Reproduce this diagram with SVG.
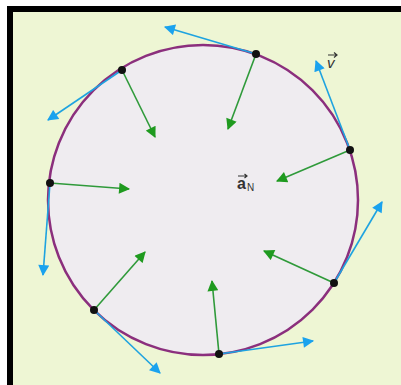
<svg xmlns="http://www.w3.org/2000/svg" width="401" height="385" viewBox="0 0 401 385">
<style>
.bg{fill:#eef6d4}
.frame{fill:none;stroke:#000;stroke-width:6}
.circ{fill:#efecf0;stroke:#8b2f7d;stroke-width:2.5}
.v{stroke:#1ea3e0;stroke-width:1.6;fill:none;marker-end:url(#mb)}
.a{stroke:#2f9a3a;stroke-width:1.6;fill:none;marker-end:url(#mg)}
.dot{fill:#111}
.lbl{font-family:"Liberation Sans",Arial,sans-serif;fill:#333}
</style>
<defs>
<marker id="mb" viewBox="0 0 10 10" refX="9" refY="5" markerWidth="13" markerHeight="11" markerUnits="userSpaceOnUse" orient="auto"><path d="M0,0 L10,5 L0,10 z" fill="#1aa2ee"/></marker>
<marker id="mg" viewBox="0 0 10 10" refX="9" refY="5" markerWidth="13" markerHeight="11" markerUnits="userSpaceOnUse" orient="auto"><path d="M0,0 L10,5 L0,10 z" fill="#1f9a1f"/></marker>
</defs>
<rect x="0" y="0" width="401" height="385" fill="#fff"/>
<rect class="bg" x="13" y="12" width="388" height="373"/>
<rect class="frame" x="10" y="9" width="400" height="390"/>
<g id="circle"><circle class="circ" cx="203" cy="200" r="155"/></g>
<g id="connectors">
<line class="v" x1="122" y1="70" x2="48" y2="120"/>
<line class="a" x1="122" y1="70" x2="155" y2="137"/>
<line class="a" x1="50" y1="183" x2="129" y2="189"/>
<line class="v" x1="50" y1="183" x2="43" y2="275"/>
<line class="a" x1="94" y1="310" x2="145" y2="252"/>
<line class="v" x1="94" y1="310" x2="160" y2="373"/>
<line class="a" x1="219" y1="354" x2="212" y2="281"/>
<line class="v" x1="219" y1="354" x2="313" y2="341"/>
<line class="a" x1="334" y1="283" x2="264" y2="251"/>
<line class="v" x1="334" y1="283" x2="382" y2="202"/>
<line class="a" x1="350" y1="150" x2="277" y2="181"/>
<line class="v" x1="350" y1="150" x2="316" y2="61"/>
<line class="a" x1="256" y1="54" x2="228" y2="129"/>
<line class="v" x1="256" y1="54" x2="165" y2="27"/>
</g>
<g id="p1"><circle class="dot" cx="122" cy="70" r="4"/></g>
<g id="p2"><circle class="dot" cx="50" cy="183" r="4"/></g>
<g id="p3"><circle class="dot" cx="94" cy="310" r="4"/></g>
<g id="p4"><circle class="dot" cx="219" cy="354" r="4"/></g>
<g id="p5"><circle class="dot" cx="334" cy="283" r="4"/></g>
<g id="p6"><circle class="dot" cx="350" cy="150" r="4"/></g>
<g id="p7"><circle class="dot" cx="256" cy="54" r="4"/></g>
<g id="labels">
<text class="lbl" x="327" y="68" font-size="15" font-style="italic">v</text>
<path d="M328,55 L337,55 M334,52.5 L337,55 L334,57.5" stroke="#333" stroke-width="1.2" fill="none"/>
<text class="lbl" x="237" y="189" font-size="16" font-weight="bold">a</text>
<text class="lbl" x="247" y="191" font-size="10">N</text>
<path d="M238,176 L247,176 M244.5,174 L247,176 L244.5,178" stroke="#333" stroke-width="1.2" fill="none"/>
</g>
</svg>
